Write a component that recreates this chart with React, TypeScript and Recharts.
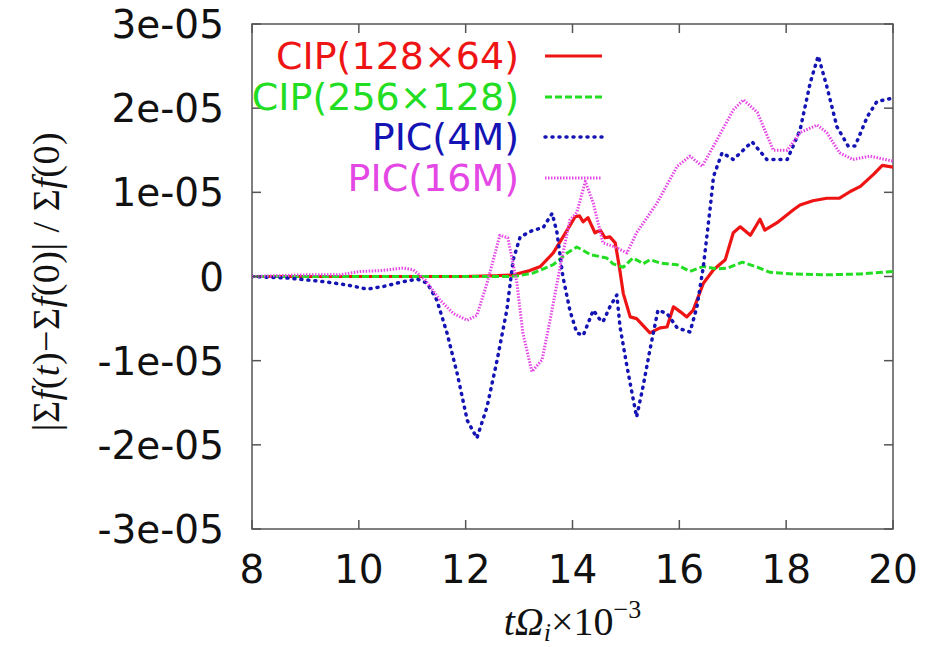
import React from 'react';
import { LineChart, Line, XAxis, YAxis, ReferenceArea, Label } from 'recharts';

// time in units of 10^3 / Omega_i, value = relative change of sum f
const cip128: [number, number][] = [
  [8, 0], [9, 0], [10, 0], [11, 0], [12, 0], [12.6, 0.01e-5], [12.9, 0.02e-5],
  [13.2, 0.07e-5], [13.4, 0.12e-5], [13.64, 0.28e-5], [13.9, 0.55e-5], [14.05, 0.71e-5],
  [14.13, 0.72e-5], [14.2, 0.65e-5], [14.29, 0.7e-5], [14.42, 0.52e-5], [14.52, 0.55e-5],
  [14.61, 0.46e-5], [14.7, 0.47e-5], [14.8, 0.4e-5], [14.88, 0.1e-5], [14.95, -0.2e-5],
  [15.08, -0.48e-5], [15.2, -0.5e-5], [15.45, -0.67e-5], [15.64, -0.61e-5], [15.77, -0.6e-5],
  [15.89, -0.36e-5], [16.02, -0.42e-5], [16.14, -0.48e-5], [16.26, -0.4e-5], [16.45, -0.08e-5],
  [16.64, 0.08e-5], [16.86, 0.2e-5], [17.01, 0.52e-5], [17.14, 0.59e-5], [17.33, 0.49e-5],
  [17.51, 0.68e-5], [17.6, 0.55e-5], [17.83, 0.64e-5], [18.13, 0.79e-5], [18.26, 0.85e-5],
  [18.5, 0.9e-5], [18.76, 0.93e-5], [19.0, 0.93e-5], [19.2, 1.01e-5], [19.39, 1.07e-5],
  [19.63, 1.21e-5], [19.8, 1.32e-5], [20, 1.3e-5],
];

const cip256: [number, number][] = [
  [8, 0], [10, 0], [12, 0], [12.8, 0], [13.0, 0.01e-5], [13.26, 0.04e-5], [13.64, 0.14e-5],
  [13.9, 0.28e-5], [14.08, 0.35e-5], [14.2, 0.31e-5], [14.33, 0.26e-5], [14.64, 0.22e-5],
  [14.76, 0.15e-5], [14.95, 0.11e-5], [15.13, 0.22e-5], [15.25, 0.18e-5], [15.32, 0.15e-5],
  [15.45, 0.2e-5], [15.64, 0.16e-5], [15.96, 0.14e-5], [16.2, 0.06e-5], [16.45, 0.12e-5],
  [16.7, 0.09e-5], [16.9, 0.1e-5], [17.18, 0.17e-5], [17.46, 0.11e-5], [17.7, 0.05e-5],
  [18.13, 0.03e-5], [18.76, 0.02e-5], [19.39, 0.03e-5], [20, 0.06e-5],
];

const pic4m: [number, number][] = [
  [8, 0], [8.7, -0.02e-5], [9.33, -0.06e-5], [9.78, -0.1e-5], [10.15, -0.15e-5],
  [10.45, -0.12e-5], [10.77, -0.07e-5], [11.09, -0.03e-5], [11.28, -0.08e-5], [11.46, -0.28e-5],
  [11.65, -0.67e-5], [11.84, -1.15e-5], [12.03, -1.71e-5], [12.21, -1.92e-5], [12.4, -1.55e-5],
  [12.59, -0.99e-5], [12.77, -0.4e-5], [12.89, 0.2e-5], [13.02, 0.47e-5], [13.26, 0.55e-5],
  [13.45, 0.58e-5], [13.62, 0.75e-5], [13.71, 0.52e-5], [13.82, 0], [13.95, -0.4e-5],
  [14.08, -0.67e-5], [14.2, -0.7e-5], [14.39, -0.4e-5], [14.5, -0.5e-5], [14.57, -0.54e-5],
  [14.7, -0.36e-5], [14.83, -0.22e-5], [14.89, -0.6e-5], [15.02, -1.07e-5], [15.2, -1.67e-5],
  [15.32, -1.31e-5], [15.45, -0.87e-5], [15.6, -0.4e-5], [15.77, -0.44e-5], [15.96, -0.61e-5],
  [16.2, -0.66e-5], [16.33, -0.36e-5], [16.45, 0.12e-5], [16.58, 0.83e-5], [16.64, 1.19e-5],
  [16.8, 1.47e-5], [17.01, 1.39e-5], [17.36, 1.6e-5], [17.64, 1.39e-5], [18.02, 1.39e-5],
  [18.26, 1.74e-5], [18.45, 2.3e-5], [18.6, 2.62e-5], [18.76, 2.26e-5], [18.95, 1.78e-5],
  [19.16, 1.55e-5], [19.29, 1.55e-5], [19.52, 1.9e-5], [19.7, 2.08e-5], [20, 2.12e-5],
];

const pic16m: [number, number][] = [
  [8, 0], [9.03, 0.02e-5], [9.65, 0.02e-5], [10.02, 0.06e-5], [10.4, 0.07e-5], [10.83, 0.1e-5],
  [11.02, 0.08e-5], [11.24, -0.04e-5], [11.52, -0.28e-5], [11.77, -0.44e-5], [12.03, -0.52e-5],
  [12.21, -0.46e-5], [12.4, -0.08e-5], [12.64, 0.49e-5], [12.79, 0.46e-5], [12.96, -0.08e-5],
  [13.07, -0.67e-5], [13.24, -1.13e-5], [13.43, -0.99e-5], [13.58, -0.52e-5], [13.77, 0.12e-5],
  [13.95, 0.67e-5], [14.08, 0.76e-5], [14.24, 1.13e-5], [14.39, 0.87e-5], [14.57, 0.4e-5],
  [14.8, 0.35e-5], [15.02, 0.28e-5], [15.2, 0.52e-5], [15.58, 0.87e-5], [15.96, 1.31e-5],
  [16.2, 1.43e-5], [16.43, 1.31e-5], [16.71, 1.63e-5], [17.01, 1.98e-5], [17.2, 2.1e-5],
  [17.46, 1.95e-5], [17.76, 1.5e-5], [18.02, 1.5e-5], [18.26, 1.71e-5], [18.58, 1.8e-5],
  [18.76, 1.71e-5], [19.0, 1.47e-5], [19.25, 1.39e-5], [19.57, 1.43e-5], [20, 1.37e-5],
];

const xTicks = [8, 10, 12, 14, 16, 18, 20];
const yTicks = [-3e-5, -2e-5, -1e-5, 0, 1e-5, 2e-5, 3e-5];
const yTickLabels = ['-3e-05', '-2e-05', '-1e-05', '0', '1e-05', '2e-05', '3e-05'];

const series = [
  { name: 'CIP(128×64)', data: cip128, color: '#ee1414', dash: undefined, width: 3.2, cap: 'butt' },
  { name: 'CIP(256×128)', data: cip256, color: '#22dd22', dash: '7 3', width: 3, cap: 'butt' },
  { name: 'PIC(4M)', data: pic4m, color: '#1414b4', dash: '1 6', width: 3.5, cap: 'round' },
  { name: 'PIC(16M)', data: pic16m, color: '#e448e4', dash: '1.5 1.5', width: 3, cap: 'butt' },
];

const W = 931;
const H = 647;
const PLOT_TOP = 24;
const PLOT_RIGHT = 893;
const TICK_LEN = 9;
const BORDER = '#555';
const TICK_FONT = '"DejaVu Sans", sans-serif';
const SERIF = '"Liberation Serif", "Times New Roman", serif';

const toPoints = (arr: [number, number][]) => arr.map(([t, v]) => ({ t, v }));

const XTick = ({ x, y, payload }: any) => (
  <g>
    <line x1={x} x2={x} y1={y} y2={y - TICK_LEN} stroke={BORDER} strokeWidth={1.5} />
    <line x1={x} x2={x} y1={PLOT_TOP} y2={PLOT_TOP + TICK_LEN} stroke={BORDER} strokeWidth={1.5} />
    <text x={x} y={y + 54} textAnchor="middle" fontSize={39} fontFamily={TICK_FONT} fill="#111">
      {payload.value}
    </text>
  </g>
);

const YTick = ({ x, y, payload }: any) => {
  const i = yTicks.indexOf(payload.value);
  return (
    <g>
      <line x1={x} x2={x + TICK_LEN} y1={y} y2={y} stroke={BORDER} strokeWidth={1.5} />
      <line x1={PLOT_RIGHT} x2={PLOT_RIGHT - TICK_LEN} y1={y} y2={y} stroke={BORDER} strokeWidth={1.5} />
      <text x={x - 28} y={y + 14} textAnchor="end" fontSize={39} fontFamily={TICK_FONT} fill="#111">
        {i >= 0 ? yTickLabels[i] : payload.value}
      </text>
    </g>
  );
};

const XLabel = ({ viewBox }: any) => {
  const cx = viewBox.x + viewBox.width / 2;
  const by = viewBox.y + 106;
  return (
    <text x={cx} y={by} textAnchor="middle" fontSize={40} fontFamily={SERIF} fill="#111">
      <tspan fontStyle="italic">tΩ</tspan>
      <tspan fontStyle="italic" fontSize={26} dy={6}>i</tspan>
      <tspan dy={-6}>×10</tspan>
      <tspan fontSize={26} dy={-17}>−3</tspan>
    </text>
  );
};

const YLabel = ({ viewBox }: any) => {
  const cx = 46;
  const cy = viewBox.y + viewBox.height / 2 + 5;
  return (
    <text
      x={cx}
      y={cy}
      transform={`rotate(-90 ${cx} ${cy})`}
      textAnchor="middle"
      dominantBaseline="central"
      fontSize={38}
      fontFamily={SERIF}
      fill="#111"
      letterSpacing={0.5}
    >
      <tspan>|Σ</tspan>
      <tspan fontStyle="italic">f</tspan>
      <tspan>(</tspan>
      <tspan fontStyle="italic">t</tspan>
      <tspan>)−Σ</tspan>
      <tspan fontStyle="italic">f</tspan>
      <tspan>(0)|  /  Σ</tspan>
      <tspan fontStyle="italic">f</tspan>
      <tspan>(0)</tspan>
    </text>
  );
};

function ChartLegend() {
  return (
    <div style={{ position: 'absolute', left: 0, top: 36, width: 610 }}>
      {series.map((s) => (
        <div key={s.name} style={{ display: 'flex', alignItems: 'center', height: 40.5 }}>
          <div
            style={{
              width: 519,
              textAlign: 'right',
              fontFamily: TICK_FONT,
              fontSize: 38,
              color: s.color,
              lineHeight: '40px',
              whiteSpace: 'nowrap',
            }}
          >
            {s.name}
          </div>
          <svg width={91} height={40} style={{ display: 'block' }}>
            <line
              x1={26}
              x2={83}
              y1={20}
              y2={20}
              stroke={s.color}
              strokeWidth={s.width}
              strokeDasharray={s.dash}
              strokeLinecap={s.cap as any}
            />
          </svg>
        </div>
      ))}
    </div>
  );
}

export default function App() {
  return (
    <div style={{ position: 'absolute', left: 0, top: 0, width: W, height: H, background: '#fff' }}>
      <LineChart width={W} height={H} margin={{ top: PLOT_TOP, right: W - PLOT_RIGHT, bottom: 0, left: 0 }}>
        <XAxis
          dataKey="t"
          type="number"
          domain={[8, 20]}
          ticks={xTicks}
          allowDataOverflow
          height={118}
          axisLine={false}
          tickLine={false}
          tickSize={0}
          tickMargin={0}
          tick={<XTick />}
          interval={0}
        >
          <Label content={<XLabel />} />
        </XAxis>
        <YAxis
          dataKey="v"
          type="number"
          domain={[-3e-5, 3e-5]}
          ticks={yTicks}
          allowDataOverflow
          width={252}
          axisLine={false}
          tickLine={false}
          tickSize={0}
          tickMargin={0}
          tick={<YTick />}
          interval={0}
        >
          <Label content={<YLabel />} />
        </YAxis>
        {series.map((s) => (
          <Line
            key={s.name}
            data={toPoints(s.data)}
            dataKey="v"
            name={s.name}
            type="linear"
            stroke={s.color}
            strokeWidth={s.width}
            strokeDasharray={s.dash}
            strokeLinecap={s.cap as any}
            strokeLinejoin="round"
            dot={false}
            activeDot={false}
            isAnimationActive={false}
          />
        ))}
        <ReferenceArea x1={8} x2={20} y1={-3e-5} y2={3e-5} fill="none" stroke={BORDER} strokeWidth={1.5} />
      </LineChart>
      <ChartLegend />
    </div>
  );
}
